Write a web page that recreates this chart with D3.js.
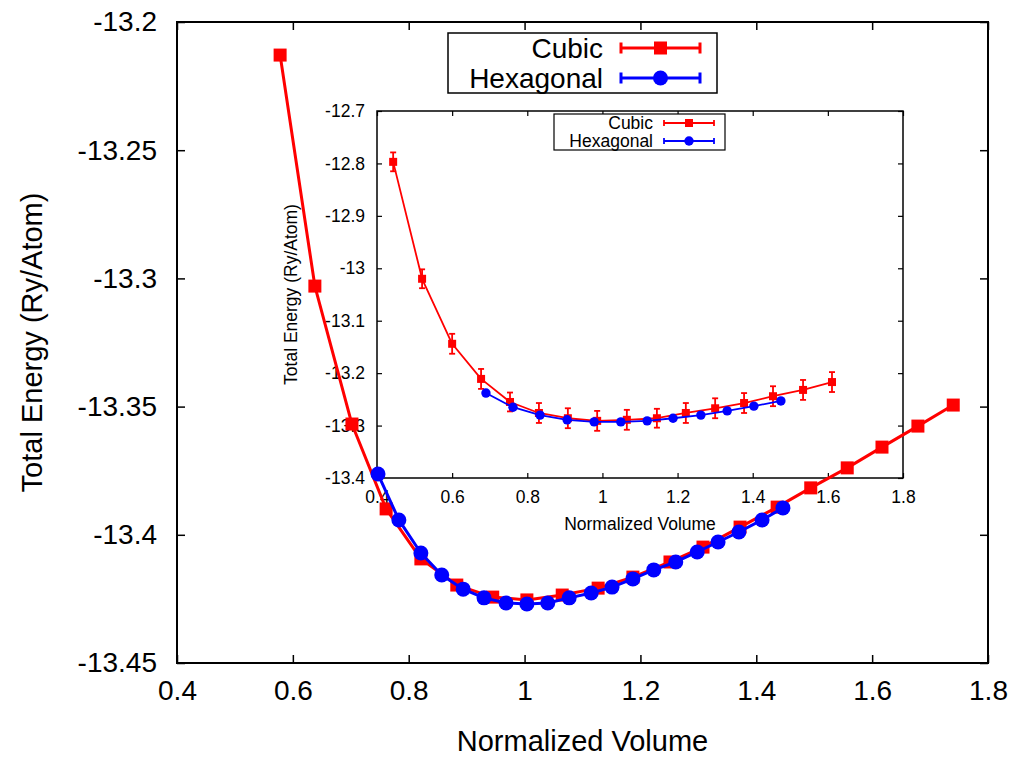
<!DOCTYPE html>
<html><head><meta charset="utf-8">
<script src="https://cdn.jsdelivr.net/npm/d3@7"></script>
<style>
body{margin:0;background:#fff;}
svg{display:block;}
text{font-family:"Liberation Sans",Arial,sans-serif;fill:#000;}
</style>
</head><body>
<svg id="c" width="1016" height="758"></svg>
<script>
// ---------- data ----------
const seriesNames = ["Cubic", "Hexagonal"];
const xTicks = [0.4, 0.6, 0.8, 1.0, 1.2, 1.4, 1.6, 1.8];
const xTickLabels = ["0.4", "0.6", "0.8", "1", "1.2", "1.4", "1.6", "1.8"];
const mainYTicks = [-13.45, -13.4, -13.35, -13.3, -13.25, -13.2];
const mainYTickLabels = ["-13.45", "-13.4", "-13.35", "-13.3", "-13.25", "-13.2"];
const insetYTicks = [-13.4, -13.3, -13.2, -13.1, -13.0, -12.9, -12.8, -12.7];
const insetYTickLabels = ["-13.4", "-13.3", "-13.2", "-13.1", "-13", "-12.9", "-12.8", "-12.7"];

const mainCubicV = [0.578,0.638,0.702,0.761,0.821,0.883,0.945,1.004,1.065,1.127,1.187,1.251,1.308,1.372,1.436,1.494,1.557,1.617,1.679,1.740];
const mainCubicE = [-13.2129,-13.3030,-13.3568,-13.3899,-13.4094,-13.4196,-13.4243,-13.4254,-13.4235,-13.4208,-13.4165,-13.4106,-13.4048,-13.3970,-13.3892,-13.3817,-13.3739,-13.3658,-13.3576,-13.3494];
const mainHexV = [0.747,0.783,0.821,0.857,0.894,0.930,0.968,1.004,1.040,1.077,1.115,1.151,1.187,1.223,1.261,1.298,1.334,1.370,1.410,1.446];
const mainHexE = [-13.3763,-13.3942,-13.4071,-13.4157,-13.4212,-13.4246,-13.4266,-13.4270,-13.4266,-13.4246,-13.4227,-13.4204,-13.4172,-13.4137,-13.4106,-13.4067,-13.4028,-13.3989,-13.3942,-13.3895];

const insetCubicV = [0.443,0.520,0.600,0.677,0.754,0.831,0.908,0.986,1.065,1.145,1.222,1.300,1.377,1.454,1.534,1.611];
const insetCubicE = [-12.797,-13.020,-13.144,-13.211,-13.255,-13.276,-13.286,-13.291,-13.289,-13.286,-13.276,-13.267,-13.257,-13.244,-13.232,-13.217];
const insetCubicErr = [0.018,0.018,0.019,0.019,0.018,0.019,0.019,0.019,0.019,0.018,0.019,0.019,0.019,0.019,0.019,0.019];
const insetHexV = [0.690,0.762,0.834,0.906,0.978,1.049,1.119,1.188,1.262,1.332,1.403,1.475];
const insetHexE = [-13.238,-13.265,-13.280,-13.289,-13.293,-13.293,-13.291,-13.286,-13.280,-13.272,-13.263,-13.253];

// ---------- setup ----------
const svg = d3.select("#c");
const RED = "#ff0000", BLUE = "#0000ff";
const zip = (a, b, e) => a.map((v, i) => ({x: v, y: b[i], e: e ? e[i] : 0}));

function drawPanel(opt) {
  const g = svg.append("g");
  const x = d3.scaleLinear().domain([0.4, 1.8]).range([opt.L, opt.R]);
  const y = d3.scaleLinear().domain(opt.yDom).range([opt.B, opt.T]);
  const fmtX = d => xTickLabels[xTicks.indexOf(d)];
  const fmtY = d => opt.yLabels[opt.yTicks.indexOf(d)];

  const ax = (gen, tr) => {
    const a = g.append("g").attr("transform", tr).call(gen);
    a.select(".domain").remove();
    a.selectAll("line").attr("stroke", "#000").attr("stroke-width", opt.tickW);
    a.selectAll("text").style("font-size", opt.fs + "px").attr("fill", "#000")
      .style("font-family", '"Liberation Sans", Arial, sans-serif');
    return a;
  };
  ax(d3.axisBottom(x).tickValues(xTicks).tickFormat(fmtX).tickSize(-opt.tick).tickSizeOuter(0).tickPadding(opt.xPad), `translate(0,${opt.B})`);
  ax(d3.axisTop(x).tickValues(xTicks).tickFormat("").tickSize(-opt.tick).tickSizeOuter(0), `translate(0,${opt.T})`);
  ax(d3.axisLeft(y).tickValues(opt.yTicks).tickFormat(fmtY).tickSize(-opt.tick).tickSizeOuter(0).tickPadding(opt.yPad), `translate(${opt.L},0)`);
  ax(d3.axisRight(y).tickValues(opt.yTicks).tickFormat("").tickSize(-opt.tick).tickSizeOuter(0), `translate(${opt.R},0)`);

  g.append("rect").attr("x", opt.L).attr("y", opt.T).attr("width", opt.R - opt.L).attr("height", opt.B - opt.T)
    .attr("fill", "none").attr("stroke", "#000").attr("stroke-width", opt.frameW);

  g.append("text").attr("x", (opt.L + opt.R) / 2).attr("y", opt.xTitleY).attr("dy", "0.35em")
    .attr("text-anchor", "middle").style("font-size", opt.titleFs + "px").text("Normalized Volume");
  g.append("text").attr("transform", `translate(${opt.yTitleX},${(opt.T + opt.B) / 2}) rotate(-90)`).attr("dy", "0.35em")
    .attr("text-anchor", "middle").style("font-size", opt.titleFs + "px").text("Total Energy (Ry/Atom)");

  return {g, x, y};
}

function drawSeries(p, data, color, shape, lw, size, capW, err) {
  const line = d3.line().x(d => p.x(d.x)).y(d => p.y(d.y));
  p.g.append("path").datum(data).attr("d", line).attr("fill", "none")
    .attr("stroke", color).attr("stroke-width", lw).attr("stroke-linejoin", "round");
  if (err) {
    const eb = p.g.append("g").attr("stroke", color).attr("stroke-width", lw);
    data.forEach(d => {
      const cx = p.x(d.x), y1 = p.y(d.y - d.e), y2 = p.y(d.y + d.e);
      eb.append("line").attr("x1", cx).attr("x2", cx).attr("y1", y1).attr("y2", y2);
      eb.append("line").attr("x1", cx - capW / 2).attr("x2", cx + capW / 2).attr("y1", y1).attr("y2", y1);
      eb.append("line").attr("x1", cx - capW / 2).attr("x2", cx + capW / 2).attr("y1", y2).attr("y2", y2);
    });
  }
  if (shape === "square") {
    p.g.selectAll(null).data(data).enter().append("rect")
      .attr("x", d => p.x(d.x) - size / 2).attr("y", d => p.y(d.y) - size / 2)
      .attr("width", size).attr("height", size).attr("fill", color);
  } else {
    p.g.selectAll(null).data(data).enter().append("circle")
      .attr("cx", d => p.x(d.x)).attr("cy", d => p.y(d.y)).attr("r", size).attr("fill", color);
  }
}

function drawLegend(g, o) {
  g.append("rect").attr("x", o.x).attr("y", o.y).attr("width", o.w).attr("height", o.h)
    .attr("fill", "#fff").attr("stroke", "#000").attr("stroke-width", o.bw);
  o.rows.forEach((r, i) => {
    const cy = o.rowY[i];
    g.append("text").attr("x", o.textR).attr("y", cy).attr("dy", "0.35em").attr("text-anchor", "end")
      .style("font-size", o.fs + "px").text(seriesNames[i]);
    const s = g.append("g").attr("stroke", r.color).attr("stroke-width", o.lw);
    s.append("line").attr("x1", o.l1).attr("x2", o.l2).attr("y1", cy).attr("y2", cy);
    s.append("line").attr("x1", o.l1).attr("x2", o.l1).attr("y1", cy - o.cap / 2).attr("y2", cy + o.cap / 2);
    s.append("line").attr("x1", o.l2).attr("x2", o.l2).attr("y1", cy - o.cap / 2).attr("y2", cy + o.cap / 2);
    const mx = (o.l1 + o.l2) / 2;
    if (r.shape === "square") g.append("rect").attr("x", mx - o.sq / 2).attr("y", cy - o.sq / 2)
      .attr("width", o.sq).attr("height", o.sq).attr("fill", r.color);
    else g.append("circle").attr("cx", mx).attr("cy", cy).attr("r", o.r).attr("fill", r.color);
  });
}

// ---------- inset ----------
const inset = drawPanel({L: 377, R: 903, T: 111, B: 478, yDom: [-13.4, -12.7], yTicks: insetYTicks, yLabels: insetYTickLabels,
  fs: 17.5, titleFs: 17.5, tick: 5, tickW: 1.2, frameW: 1.5, xPad: 13, yPad: 12, xTitleY: 524, yTitleX: 291});
drawSeries(inset, zip(insetCubicV, insetCubicE, insetCubicErr), RED, "square", 1.8, 8, 6, true);
drawSeries(inset, zip(insetHexV, insetHexE), BLUE, "circle", 1.8, 4.7, 6, false);
drawLegend(inset.g, {x: 554, y: 114, w: 171, h: 36, bw: 1.2, fs: 17.5, textR: 653, rowY: [123, 141], l1: 664, l2: 714,
  lw: 1.8, cap: 6, sq: 8, r: 4.7, rows: [{color: RED, shape: "square"}, {color: BLUE, shape: "circle"}]});

// ---------- main ----------
const main = drawPanel({L: 177, R: 988, T: 22, B: 663, yDom: [-13.45, -13.2], yTicks: mainYTicks, yLabels: mainYTickLabels,
  fs: 28, titleFs: 29, tick: 8, tickW: 1.5, frameW: 2, xPad: 17, yPad: 20, xTitleY: 741, yTitleX: 32});
drawSeries(main, zip(mainCubicV, mainCubicE), RED, "square", 3, 13, 0, false);
drawSeries(main, zip(mainHexV, mainHexE), BLUE, "circle", 3, 7.5, 0, false);
drawLegend(main.g, {x: 448, y: 33, w: 269, h: 60, bw: 1.5, fs: 28, textR: 603, rowY: [48, 78], l1: 621, l2: 700,
  lw: 3, cap: 11, sq: 13, r: 7.5, rows: [{color: RED, shape: "square"}, {color: BLUE, shape: "circle"}]});
</script>
</body></html>
